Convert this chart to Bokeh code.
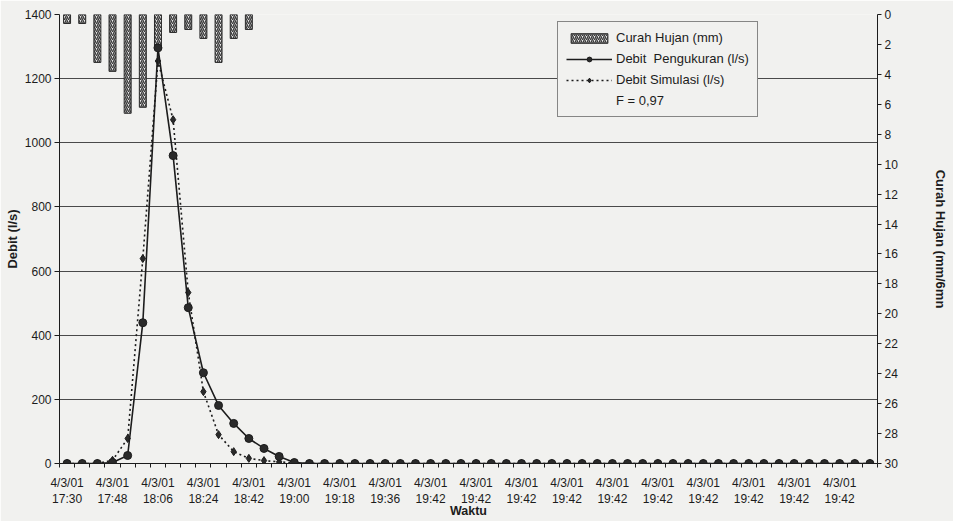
from bokeh.plotting import figure
from bokeh.models import Range1d, LinearAxis, FixedTicker, Legend, LegendItem
from bokeh.embed import file_html
from bokeh.resources import INLINE

# ---------------- data ----------------
time_index = [0, 1, 2, 3, 4, 5, 6, 7, 8, 9, 10, 11, 12, 13, 14, 15, 16, 17,
              18, 19, 20, 21, 22, 23, 24, 25, 26, 27, 28, 29, 30, 31, 32, 33, 34, 35,
              36, 37, 38, 39, 40, 41, 42, 43, 44, 45, 46, 47, 48, 49, 50, 51, 52, 53]

debit_pengukuran = [0, 0, 0, 3, 25, 439, 1296, 960, 486, 283, 181, 125, 78, 47, 22, 3, 0, 0,
                    0, 0, 0, 0, 0, 0, 0, 0, 0, 0, 0, 0, 0, 0, 0, 0, 0, 0,
                    0, 0, 0, 0, 0, 0, 0, 0, 0, 0, 0, 0, 0, 0, 0, 0, 0, 0]

debit_simulasi = [0, 0, 0, 10, 78, 639, 1255, 1072, 533, 224, 90, 37, 16, 9, 5, 2, 0, 0,
                  0, 0, 0, 0, 0, 0, 0, 0, 0, 0, 0, 0, 0, 0, 0, 0, 0, 0,
                  0, 0, 0, 0, 0, 0, 0, 0, 0, 0, 0, 0, 0, 0, 0, 0, 0, 0]

rain_index = [0, 1, 2, 3, 4, 5, 6, 7, 8, 9, 10, 11, 12]
curah_hujan = [0.6, 0.6, 3.2, 3.8, 6.6, 6.2, 2.3, 1.2, 1.0, 1.6, 3.2, 1.6, 1.0]

label_index = [0, 3, 6, 9, 12, 15, 18, 21, 24, 27, 30, 33, 36, 39, 42, 45, 48, 51]
tick_labels = ["4/3/01\n17:30", "4/3/01\n17:48", "4/3/01\n18:06", "4/3/01\n18:24",
               "4/3/01\n18:42", "4/3/01\n19:00", "4/3/01\n19:18", "4/3/01\n19:36",
               "4/3/01\n19:42", "4/3/01\n19:42", "4/3/01\n19:42", "4/3/01\n19:42",
               "4/3/01\n19:42", "4/3/01\n19:42", "4/3/01\n19:42", "4/3/01\n19:42",
               "4/3/01\n19:42", "4/3/01\n19:42"]

debit_ticks = [0, 200, 400, 600, 800, 1000, 1200, 1400]
rain_ticks = [0, 2, 4, 6, 8, 10, 12, 14, 16, 18, 20, 22, 24, 26, 28, 30]

# ---------------- style ----------------
BG = "#f1f1ef"
INK = "#1c1c1c"
FONT = "Liberation Sans"

n = len(time_index)
p = figure(width=953, height=521, output_backend="svg", toolbar_location=None,
           x_range=Range1d(-0.5, n - 0.5), y_range=Range1d(0, 1400),
           min_border_left=59, min_border_right=76, min_border_top=14, min_border_bottom=58,
           background_fill_color=BG, border_fill_color=BG, outline_line_color=None)

p.extra_y_ranges = {"rain": Range1d(start=30, end=0)}

# grid
p.xgrid.visible = False
p.ygrid.grid_line_color = "#4a4a4a"
p.ygrid.grid_line_width = 1

# left axis
yax = p.yaxis[0]
yax.ticker = FixedTicker(ticks=debit_ticks)
yax.axis_label = "Debit (l/s)"
yax.axis_label_text_font = FONT
yax.axis_label_text_font_style = "bold"
yax.axis_label_text_font_size = "13px"
yax.axis_label_text_color = INK
yax.axis_label_standoff = 2
yax.major_label_text_font = FONT
yax.major_label_text_font_size = "12px"
yax.major_label_text_color = INK
yax.major_label_standoff = 3
yax.major_tick_out = 5
yax.major_tick_in = 0
yax.minor_tick_out = 0
yax.minor_tick_in = 0
yax.axis_line_color = INK
yax.major_tick_line_color = INK

# bottom axis
xax = p.xaxis[0]
xax.ticker = FixedTicker(ticks=label_index,
                         minor_ticks=[i - 0.5 for i in time_index] + [n - 0.5])
xax.major_label_overrides = {i: t for i, t in zip(label_index, tick_labels)}
xax.axis_label = "Waktu"
xax.axis_label_text_font = FONT
xax.axis_label_text_font_style = "bold"
xax.axis_label_text_font_size = "12.5px"
xax.axis_label_text_color = INK
xax.axis_label_standoff = -5
xax.major_label_text_font = FONT
xax.major_label_text_font_size = "12px"
xax.major_label_text_color = INK
xax.major_label_standoff = 8
xax.major_tick_out = 0
xax.major_tick_in = 0
xax.minor_tick_out = 4
xax.minor_tick_in = 0
xax.minor_tick_line_color = INK
xax.axis_line_color = INK

# right axis (rain, reversed)
rax = LinearAxis(y_range_name="rain", ticker=FixedTicker(ticks=rain_ticks))
rax.axis_label = "Curah Hujan (mm/6mn"
rax.axis_label_text_font = FONT
rax.axis_label_text_font_style = "bold"
rax.axis_label_text_font_size = "13px"
rax.axis_label_text_color = INK
rax.axis_label_standoff = 32
rax.major_label_text_font = FONT
rax.major_label_text_font_size = "12px"
rax.major_label_text_color = INK
rax.major_label_standoff = 3
rax.major_tick_out = 4
rax.major_tick_in = 0
rax.minor_tick_out = 0
rax.minor_tick_in = 0
rax.axis_line_color = INK
rax.major_tick_line_color = INK
p.add_layout(rax, "right")

# ---------------- glyphs ----------------
bars = p.vbar(x=rain_index, top=0, bottom=curah_hujan, width=0.46, y_range_name="rain",
              fill_color="#e9e9e9", line_color="#2a2a2a", line_width=1,
              hatch_pattern="/", hatch_color="#3a3a3a", hatch_scale=4, hatch_weight=1.4)

sim_line = p.line(time_index, debit_simulasi, line_color=INK, line_width=1.6, line_dash="2 3")
sim_pts = p.scatter(time_index, debit_simulasi, marker="diamond", size=8,
                    fill_color="#2a2a2a", line_color=INK)

meas_line = p.line(time_index, debit_pengukuran, line_color=INK, line_width=1.6)
meas_pts = p.scatter(time_index, debit_pengukuran, marker="circle", size=8,
                     fill_color="#2a2a2a", line_color=INK)

dummy = p.scatter([], [], marker="circle", size=1, alpha=0)

legend = Legend(items=[
    LegendItem(label="Curah Hujan (mm)", renderers=[bars]),
    LegendItem(label="Debit  Pengukuran (l/s)", renderers=[meas_line, meas_pts]),
    LegendItem(label="Debit Simulasi (l/s)", renderers=[sim_line, sim_pts]),
    LegendItem(label="F = 0,97", renderers=[dummy]),
], location=(498, 346))
legend.border_line_color = INK
legend.border_line_width = 1
legend.background_fill_color = BG
legend.background_fill_alpha = 1
legend.label_text_font = FONT
legend.label_text_font_size = "13px"
legend.label_text_color = INK
legend.glyph_width = 46
legend.glyph_height = 12
legend.label_height = 14
legend.spacing = 6
legend.padding = 8
legend.margin = 0
legend.label_standoff = 4
p.add_layout(legend)

open("out.html", "w").write(file_html(p, INLINE))
